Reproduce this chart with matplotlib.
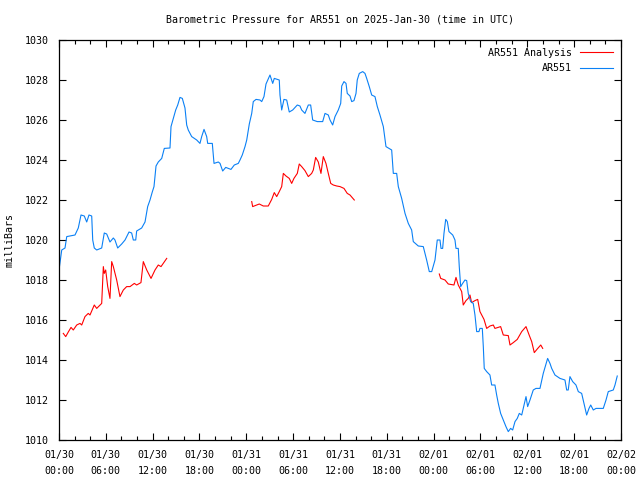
import numpy as np
import pandas as pd
import matplotlib
matplotlib.use("Agg")
import matplotlib.pyplot as plt
import matplotlib.dates as mdates

start = pd.Timestamp("2025-01-30 00:00")

# AR551 observations: hours after start, pressure (mb)
obs_hours = [0.0, 0.35, 0.77, 0.99, 2.05, 2.47, 2.82, 3.24, 3.55, 3.84, 4.19, 4.32, 4.52, 4.83,
             5.47, 5.80, 6.11, 6.53, 6.96, 7.17, 7.52, 8.03, 8.46, 8.97, 9.31, 9.52, 9.83, 9.95,
             10.59, 11.02, 11.36, 11.66, 11.95, 12.17, 12.43, 12.72, 13.16, 13.49, 14.22, 14.35,
             14.64, 14.95, 15.21, 15.50, 15.80, 16.14, 16.36, 16.56, 17.00, 17.64, 18.06, 18.28,
             18.58, 18.92, 19.05, 19.64, 19.86, 20.41, 20.63, 20.97, 21.36, 22.03, 22.46, 22.97,
             23.19, 23.48, 23.61, 23.83, 24.05, 24.25, 24.38, 24.69, 24.89, 25.24, 25.75, 25.97,
             26.26, 26.52, 27.03, 27.38, 27.58, 28.22, 28.31, 28.53, 28.66, 28.82, 29.17, 29.50,
             29.94, 30.53, 30.87, 31.09, 31.51, 31.94, 32.24, 32.50, 33.09, 33.78, 34.08, 34.50,
             34.72, 35.06, 35.36, 35.78, 36.09, 36.22, 36.51, 36.77, 36.93, 37.28, 37.50, 37.79,
             38.05, 38.21, 38.47, 38.91, 39.20, 39.42, 39.75, 40.06, 40.48, 40.78, 41.12, 41.55,
             41.89, 42.62, 42.83, 43.26, 43.47, 43.90, 44.33, 44.75, 45.18, 45.39, 46.03, 46.67,
             47.10, 47.44, 47.75, 48.17, 48.46, 48.81, 48.94, 49.15, 49.32, 49.54, 49.75, 49.96,
             50.44, 50.73, 50.86, 51.15, 51.28, 51.46, 51.71, 52.01, 52.23, 52.43, 52.74, 53.07,
             53.29, 53.51, 53.80, 53.93, 54.23, 54.36, 54.48, 54.79, 55.21, 55.43, 55.85, 56.07,
             56.28, 56.58, 56.92, 57.26, 57.56, 57.86, 58.12, 58.42, 58.71, 58.97, 59.28, 59.48,
             59.83, 60.04, 60.34, 60.76, 61.11, 61.62, 62.04, 62.35, 62.60, 62.90, 63.12, 63.54,
             64.18, 64.82, 65.04, 65.24, 65.46, 65.81, 66.23, 66.53, 66.96, 67.26, 67.60, 67.90,
             68.12, 68.45, 68.80, 69.73, 70.08, 70.37, 71.01, 71.23, 71.52]
obs_mb = [1018.5, 1019.5, 1019.6, 1020.17, 1020.25, 1020.6, 1021.25, 1021.2, 1020.9, 1021.25,
          1021.2, 1020.0, 1019.6, 1019.5, 1019.6, 1020.35, 1020.3, 1019.9, 1020.1, 1020.0,
          1019.6, 1019.8, 1020.0, 1020.4, 1020.35, 1020.0, 1020.0, 1020.45, 1020.6, 1020.9,
          1021.67, 1022.0, 1022.4, 1022.67, 1023.7, 1023.9, 1024.08, 1024.58, 1024.6, 1025.67,
          1026.08, 1026.5, 1026.75, 1027.13, 1027.08, 1026.6, 1025.75, 1025.5, 1025.17, 1025.0,
          1024.83, 1025.17, 1025.53, 1025.17, 1024.83, 1024.83, 1023.83, 1023.9, 1023.83, 1023.45,
          1023.63, 1023.53, 1023.75, 1023.83, 1024.0, 1024.25, 1024.4, 1024.67, 1025.0, 1025.5,
          1025.8, 1026.33, 1026.92, 1027.03, 1027.0, 1026.92, 1027.17, 1027.8, 1028.25, 1027.83,
          1028.08, 1028.0, 1027.25, 1026.5, 1026.75, 1027.03, 1027.0, 1026.4, 1026.5, 1026.75,
          1026.7, 1026.5, 1026.33, 1026.75, 1026.75, 1026.0, 1025.92, 1025.92, 1026.33, 1026.25,
          1026.0, 1025.75, 1026.17, 1026.5, 1026.83, 1027.7, 1027.92, 1027.83, 1027.33, 1027.2,
          1026.92, 1026.97, 1027.33, 1028.0, 1028.33, 1028.42, 1028.33, 1028.08, 1027.67, 1027.25,
          1027.17, 1026.67, 1026.25, 1025.67, 1024.67, 1024.5, 1023.33, 1023.33, 1022.67, 1022.08,
          1021.33, 1020.83, 1020.5, 1019.92, 1019.7, 1019.67, 1019.0, 1018.42, 1018.42, 1019.0,
          1020.0, 1020.0, 1019.58, 1019.58, 1020.33, 1021.03, 1020.92, 1020.42, 1020.25, 1020.0,
          1019.58, 1019.58, 1018.67, 1017.67, 1017.83, 1018.0, 1017.97, 1017.33, 1016.92, 1016.83,
          1016.25, 1015.42, 1015.42, 1015.58, 1015.58, 1014.67, 1013.58, 1013.42, 1013.25, 1012.75,
          1012.75, 1012.25, 1011.83, 1011.33, 1011.0, 1010.67, 1010.42, 1010.58, 1010.5, 1010.92,
          1011.08, 1011.33, 1011.25, 1011.58, 1012.17, 1011.67, 1012.0, 1012.5, 1012.58, 1012.58,
          1013.33, 1013.75, 1014.08, 1013.83, 1013.58, 1013.25, 1013.08, 1013.0, 1012.5, 1012.5,
          1013.17, 1012.92, 1012.75, 1012.42, 1012.33, 1011.83, 1011.25, 1011.58, 1011.75, 1011.5,
          1011.58, 1011.58, 1012.0, 1012.42, 1012.5, 1012.75, 1013.2]

# AR551 Analysis, three separate runs
ana1_hours = [0.55, 0.86, 1.19, 1.54, 1.83, 2.27, 2.69, 2.91, 3.33, 3.75, 3.97, 4.52, 4.83, 5.47,
              5.68, 5.80, 5.98, 6.24, 6.53, 6.75, 6.96, 7.39, 7.81, 8.24, 8.67, 9.10, 9.65, 9.95,
              10.50, 10.80, 11.24, 11.79, 12.30, 12.72, 13.07, 13.80]
ana1_mb = [1015.33, 1015.17, 1015.4, 1015.63, 1015.5, 1015.75, 1015.83, 1015.75, 1016.17, 1016.33,
           1016.25, 1016.75, 1016.58, 1016.83, 1018.67, 1018.33, 1018.5, 1017.67, 1017.08, 1018.92,
           1018.67, 1018.0, 1017.17, 1017.5, 1017.67, 1017.67, 1017.83, 1017.75, 1017.87, 1018.92,
           1018.5, 1018.08, 1018.5, 1018.75, 1018.67, 1019.08]
ana2_hours = [24.69, 24.81, 25.33, 25.66, 26.17, 26.81, 27.25, 27.58, 27.89, 28.22, 28.53, 28.74,
              29.08, 29.50, 29.81, 30.10, 30.53, 30.78, 31.09, 31.51, 31.94, 32.37, 32.58, 32.88,
              33.22, 33.56, 33.86, 34.20, 34.50, 34.81, 35.14, 35.58, 36.00, 36.51, 36.93, 37.28,
              37.83]
ana2_mb = [1021.92, 1021.67, 1021.75, 1021.8, 1021.7, 1021.7, 1022.03, 1022.37, 1022.17, 1022.42,
           1022.67, 1023.33, 1023.2, 1023.08, 1022.83, 1023.08, 1023.33, 1023.8, 1023.67, 1023.47,
           1023.17, 1023.33, 1023.5, 1024.13, 1023.9, 1023.33, 1024.17, 1023.83, 1023.33, 1022.83,
           1022.75, 1022.7, 1022.67, 1022.58, 1022.33, 1022.25, 1022.0]
ana3_hours = [48.72, 48.90, 49.45, 49.87, 50.60, 50.86, 51.15, 51.59, 51.79, 52.14, 52.43, 52.65,
              52.86, 53.29, 53.64, 53.93, 54.45, 54.79, 55.21, 55.64, 55.85, 56.58, 56.92, 57.56,
              57.78, 58.20, 58.71, 59.28, 59.83, 60.23, 60.56, 60.89, 61.27, 61.72, 61.97]
ana3_mb = [1018.3, 1018.08, 1018.0, 1017.8, 1017.75, 1018.13, 1017.75, 1017.42, 1016.75, 1016.97,
           1017.08, 1017.25, 1016.87, 1016.97, 1017.03, 1016.42, 1016.03, 1015.58, 1015.7, 1015.75,
           1015.58, 1015.67, 1015.25, 1015.22, 1014.75, 1014.87, 1015.03, 1015.42, 1015.67, 1015.25,
           1014.92, 1014.37, 1014.55, 1014.75, 1014.58]


def to_time(hours):
    return start + pd.to_timedelta(np.asarray(hours), unit="h")


# join analysis runs with gaps
ana_hours = ana1_hours + [np.nan] + ana2_hours + [np.nan] + ana3_hours
ana_mb = ana1_mb + [np.nan] + ana2_mb + [np.nan] + ana3_mb

plt.rcParams['font.family'] = 'DejaVu Sans Mono'
plt.rcParams['font.size'] = 7.2

fig = plt.figure(figsize=(6.4, 4.8), dpi=100)
ax = fig.add_axes([59/640, 40/480, 562/640, 400/480])

ax.plot(to_time(ana_hours), ana_mb, color='#ff0000', lw=0.8, label='AR551 Analysis')
ax.plot(to_time(obs_hours), obs_mb, color='#0a80f5', lw=0.8, label='AR551')

ax.set_xlim(start, start + pd.Timedelta(hours=72))
ax.set_ylim(1010, 1030)
ax.set_yticks(np.arange(1010, 1031, 2))
ax.xaxis.set_major_locator(mdates.HourLocator(byhour=[0, 6, 12, 18]))
ax.xaxis.set_minor_locator(mdates.HourLocator(byhour=range(0, 24, 2)))
ax.xaxis.set_major_formatter(mdates.DateFormatter('%m/%d\n%H:%M'))
ax.tick_params(which='both', direction='in', top=True, right=True, width=0.8, colors='black')
ax.tick_params(which='major', length=5, pad=7)
ax.tick_params(which='minor', length=3)
for lab in ax.get_xticklabels():
    lab.set_linespacing(1.75)
for s in ax.spines.values():
    s.set_linewidth(0.9)

ax.set_ylabel('milliBars', labelpad=8)
ax.text(0.5, 1 + 20/400, 'Barometric Pressure for AR551 on 2025-Jan-30 (time in UTC)',
        transform=ax.transAxes, ha='center', va='center')

leg = ax.legend(loc='upper right', frameon=False, markerfirst=False, handlelength=3.3,
                borderaxespad=0.4, labelspacing=0.55, handletextpad=0.8)

fig.savefig('out.png', dpi=100)
